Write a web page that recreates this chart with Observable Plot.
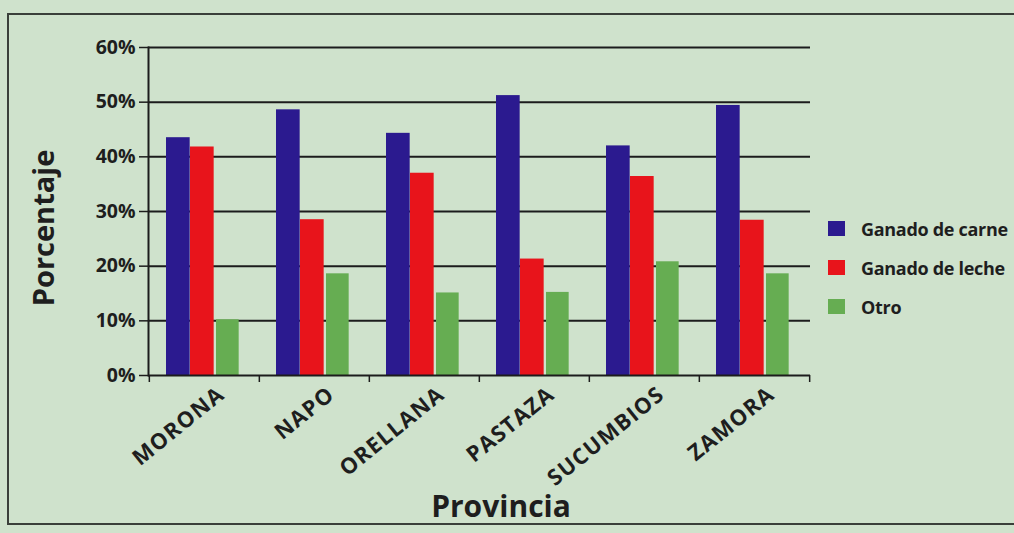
<!DOCTYPE html>
<html><head><meta charset="utf-8">
<script src="https://cdn.jsdelivr.net/npm/d3@7"></script>
<script src="https://cdn.jsdelivr.net/npm/@observablehq/plot@0.6"></script>
<style>
html,body{margin:0;padding:0;background:#dfe9dc;}
#wrap{position:relative;width:1014px;height:533px;background:#cfe2cc;font-family:"Open Sans",sans-serif;color:#1e1e1e;overflow:hidden}
#frame{position:absolute;left:7px;top:13px;width:1020px;height:512px;border:2px solid #3a3f3a;box-sizing:border-box}
#chart{position:absolute;left:0;top:0}
#chart svg{background:transparent;font-family:"Open Sans",sans-serif}
#chart svg text{font-weight:700;fill:#1e1e1e}
.ytitle{position:absolute;left:42px;top:228px;transform:translate(-50%,-50%) rotate(-90deg);font-size:29px;font-weight:700;white-space:nowrap}
.xtitle{position:absolute;left:501px;top:505px;transform:translate(-50%,-50%);font-size:30px;font-weight:700;white-space:nowrap}
.legend{position:absolute;left:828px;top:209px}
.legend .item{display:flex;align-items:center;height:39px;font-size:18px;font-weight:700;white-space:nowrap;letter-spacing:-0.3px}
.legend .sw{width:17px;height:15px;margin-right:16px}
</style></head><body>
<div id="wrap">
<div id="frame"></div>
<div id="chart"></div>
<div class="ytitle">Porcentaje</div>
<div class="xtitle">Provincia</div>
<div class="legend" id="legend"></div>
</div>
<script>
const provincias = ["MORONA","NAPO","ORELLANA","PASTAZA","SUCUMBIOS","ZAMORA"];
const series = ["Ganado de carne","Ganado de leche","Otro"];
const carne = [43.5, 48.6, 44.3, 51.2, 42.0, 49.4];
const leche = [41.8, 28.5, 37.0, 21.3, 36.4, 28.4];
const otro  = [10.2, 18.6, 15.1, 15.2, 20.8, 18.6];
const yTicks = [0, 10, 20, 30, 40, 50, 60];
const colors = ["#2b1a8f", "#e8141b", "#66ad52"];

const W = 1014, H = 533, ML = 148, MR = 204, MT = 47, MB = 158;
const step = (W - ML - MR) / provincias.length;
// sub-bar extents within each band (px from band start)
const slots = [[17, 41], [41, 65], [67, 90]];

const values = [carne, leche, otro];
const barMarks = values.map((vals, i) =>
  Plot.barY(provincias.map((p, j) => ({provincia: p, valor: vals[j]})), {
    x: "provincia", y: "valor", fill: colors[i],
    insetLeft: slots[i][0], insetRight: step - slots[i][1]
  })
);

const plot = Plot.plot({
  width: W, height: H,
  marginLeft: ML, marginRight: MR, marginTop: MT, marginBottom: MB,
  x: {domain: provincias, padding: 0, axis: null},
  y: {domain: [0, 60], axis: null},
  marks: [
    Plot.ruleY(yTicks.filter(d => d > 0), {stroke: "#1c1c1c", strokeWidth: 2}),
    ...barMarks,
    Plot.ruleY([0], {stroke: "#1c1c1c", strokeWidth: 2}),
    Plot.frame({anchor: "left", stroke: "#1c1c1c", strokeWidth: 2}),
    Plot.axisY({ticks: yTicks, tickFormat: d => d + "%", tickSize: 9, tickPadding: 4, stroke: "#1c1c1c", strokeWidth: 1.5, label: null}),
    Plot.axisX({tickSize: 7, tickFormat: () => "", dx: -step / 2, stroke: "#1c1c1c", strokeWidth: 1.5, label: null}),
    Plot.axisX([provincias[provincias.length - 1]], {tickSize: 7, tickFormat: () => "", dx: step / 2, stroke: "#1c1c1c", strokeWidth: 1.5, label: null}),
    Plot.axisX({tickSize: 0, tickRotate: -39, tickPadding: 6, dx: 17, dy: 10, label: null})
  ]
});
document.getElementById("chart").appendChild(plot);

// enlarge tick label fonts (rotated = x labels, others = y labels)
d3.select(plot).selectAll("text").each(function() {
  const t = this.getAttribute("transform") || "";
  const g = this.parentNode.getAttribute("transform") || "";
  const rotated = /rotate/.test(t) || /rotate/.test(g);
  this.style.fontSize = rotated ? "22px" : "19.5px";
  this.style.fontWeight = "700";
  if (rotated) this.style.letterSpacing = "1.2px";
});

const legend = document.getElementById("legend");
series.forEach((s, i) => {
  const it = document.createElement("div");
  it.className = "item";
  const sw = document.createElement("span");
  sw.className = "sw";
  sw.style.background = colors[i];
  const tx = document.createElement("span");
  tx.textContent = s;
  it.appendChild(sw); it.appendChild(tx);
  legend.appendChild(it);
});
</script>
</body></html>
